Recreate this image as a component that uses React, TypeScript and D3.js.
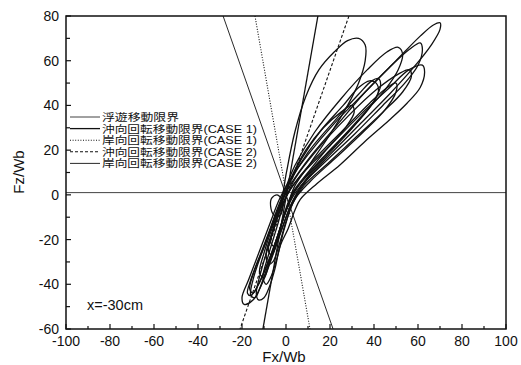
import React from "react";
import * as d3 from "d3";

const W = 521;
const H = 365;

const xTicksMajor = [-100, -80, -60, -40, -20, 0, 20, 40, 60, 80, 100];
const xTicksMinor = [-90, -70, -50, -30, -10, 10, 30, 50, 70, 90];
const yTicksMajor = [-60, -40, -20, 0, 20, 40, 60, 80];
const yTicksMinor = [-50, -30, -10, 10, 30, 50, 70];

const legendLabels = [
  "浮遊移動限界",
  "沖向回転移動限界(CASE 1)",
  "岸向回転移動限界(CASE 1)",
  "沖向回転移動限界(CASE 2)",
  "岸向回転移動限界(CASE 2)",
];
const legendDash = ["", "", "1,1.6", "3,2", ""];
const legendWidth = [0.8, 1.3, 1.1, 1.1, 0.9];

// limit lines [Fx, Fz]
const floatLimit: [number, number][] = [[-100, 1], [100, 1]];
const offshoreCase1: [number, number][] = [[14.5, 80], [-10.5, -60]];
const shoreCase1: [number, number][] = [[-14.1, 80], [10.9, -60]];
const offshoreCase2: [number, number][] = [[28.6, 80], [-20.9, -60]];
const shoreCase2: [number, number][] = [[-28.6, 80], [21.4, -60]];

// trajectory loops [Fx, Fz]
const loopA: [number, number][] = [[33,70],[36,67],[36,60],[33,50],[28,40],[20,27],[11,14],[4,4],[1,-4],[-3,-16],[-8,-30],[-13,-41],[-16,-45],[-17.5,-44],[-16,-38],[-11,-25],[-6,-12],[-2,-2],[0,9],[4,28],[9,44],[15,56],[22,64],[28,69]];
const loopB: [number, number][] = [[70,77],[70,74],[66,67],[58,57],[47,45],[34,32],[20,18],[9,6],[3,-3],[-1,-13],[-6,-27],[-11,-40],[-15,-47],[-19,-49],[-20,-46],[-17,-38],[-12,-25],[-7,-12],[-3,-2],[2,7],[10,18],[22,32],[36,46],[50,60],[61,71],[67,76]];
const loopC: [number, number][] = [[61,68],[62,65],[60,58],[54,50],[44,40],[31,27],[17,14],[7,4],[2,-5],[-3,-18],[-8,-31],[-12,-42],[-14,-46],[-16,-45],[-15,-38],[-11,-26],[-6,-13],[-2,-3],[3,6],[11,17],[23,31],[36,46],[47,57],[56,65]];
const loopD: [number, number][] = [[62,58],[63,55],[61,48],[55,41],[47,33.5],[36,24],[24.5,13.4],[14,5],[6.5,-2],[4,-7],[1,-15],[-2.7,-23],[-5,-33],[-7.5,-41],[-10,-46],[-12.5,-47],[-13.5,-44],[-11,-33],[-7,-20],[-3,-8],[1,1],[8,10],[20,22],[34,36],[46,47],[56,56]];
const loopE: [number, number][] = [[51,66],[53,63],[51,56],[45,47],[36,37],[24,24],[12,11],[4,2],[0,-7],[-4,-19],[-9,-32],[-13,-41],[-15,-44],[-16.5,-42],[-14,-33],[-9,-21],[-5,-9],[-1,1],[4,13],[13,28],[25,43],[37,56],[46,64]];
const loopF: [number, number][] = [[42,52],[43,49],[40,42],[32,32],[21,20],[10,8],[3,-1],[-1,-10],[-5,-22],[-8,-32],[-10,-37],[-12,-35],[-10,-26],[-6,-14],[-2,-4],[2,6],[10,19],[22,33],[33,45],[39,51]];
const loopG: [number, number][] = [[50,50],[50,46],[45,38],[35,28],[22,16],[11,6],[4,-2],[0,-12],[-3,-22],[-6,-30],[-8,-31],[-9,-26],[-6,-16],[-2,-5],[3,4],[12,15],[26,29],[38,41],[46,48]];
const loopH: [number, number][] = [[38,51],[41,50],[42,46],[38,39],[30,30],[18,18],[8,7],[2,-2],[-2,-13],[-5,-24],[-6.5,-27],[-8,-25],[-6,-16],[-3,-6],[1,4],[7,16],[16,29],[26,40],[33,48]];
const loopI: [number, number][] = [[30,40],[31,37],[27,30],[19,21],[10,10],[3,1],[-1,-9],[-4,-20],[-5.5,-23],[-7,-21],[-5,-13],[-2,-3],[2,7],[9,20],[17,30],[25,37]];
const loopJ: [number, number][] = [[56,56],[57,53],[53,46],[44,37],[32,26],[19,14],[8,4],[3,-4],[-1,-16],[-4,-28],[-7,-37],[-9,-40],[-10.5,-37],[-8,-27],[-4,-14],[-1,-4],[4,7],[14,20],[28,35],[41,47],[51,54]];
const loopOval: [number, number][] = [[-4,0],[-2,-2],[-1.5,-6],[-3,-9.5],[-5.5,-9],[-7,-5],[-6.5,-1.5]];

const loops = [loopA, loopB, loopC, loopD, loopE, loopF, loopG, loopH, loopI, loopJ, loopOval];

const annotation = "x=-30cm";

export default function App() {
  const x = d3.scaleLinear().domain([-100, 100]).range([66, 506]);
  const y = d3.scaleLinear().domain([-60, 80]).range([329, 16]);
  const line = d3.line<[number, number]>().x((d) => x(d[0])).y((d) => y(d[1]));
  const loopPath = d3
    .line<[number, number]>()
    .x((d) => x(d[0]))
    .y((d) => y(d[1]))
    .curve(d3.curveCatmullRomClosed.alpha(0.5));

  const limitLines: { pts: [number, number][]; dash: string; w: number }[] = [
    { pts: floatLimit, dash: legendDash[0], w: legendWidth[0] },
    { pts: offshoreCase1, dash: legendDash[1], w: legendWidth[1] },
    { pts: shoreCase1, dash: legendDash[2], w: legendWidth[2] },
    { pts: offshoreCase2, dash: legendDash[3], w: legendWidth[3] },
    { pts: shoreCase2, dash: legendDash[4], w: legendWidth[4] },
  ];

  const font = "'Liberation Sans', Arial, 'Noto Sans CJK JP', sans-serif";
  const [x0, x1] = x.range();
  const [yb, yt] = y.range();

  return (
    <div style={{ position: "absolute", left: 0, top: 0 }}>
      <svg width={W} height={H} style={{ display: "block", background: "#fff" }}>
        <defs>
          <clipPath id="plot">
            <rect x={x0} y={yt} width={x1 - x0} height={yb - yt} />
          </clipPath>
        </defs>
        <g clipPath="url(#plot)">
          {limitLines.map((l, i) => (
            <path
              key={"l" + i}
              d={line(l.pts) || ""}
              fill="none"
              stroke="#111"
              strokeWidth={l.w}
              strokeDasharray={l.dash || undefined}
            />
          ))}
          {loops.map((lp, i) => (
            <path key={"p" + i} d={loopPath(lp) || ""} fill="none" stroke="#111" strokeWidth={1.3} />
          ))}
        </g>
        {/* frame */}
        <rect x={x0} y={yt} width={x1 - x0} height={yb - yt} fill="none" stroke="#111" strokeWidth={1.5} />
        {/* x ticks */}
        {xTicksMajor.map((t) => (
          <g key={"xt" + t}>
            <line x1={x(t)} x2={x(t)} y1={yb} y2={yb - 5} stroke="#111" strokeWidth={1.2} />
            <text x={x(t)} y={346} textAnchor="middle" fontFamily={font} fontSize={14} fill="#111">
              {t}
            </text>
          </g>
        ))}
        {xTicksMinor.map((t) => (
          <line key={"xm" + t} x1={x(t)} x2={x(t)} y1={yb} y2={yb - 3} stroke="#111" strokeWidth={1.2} />
        ))}
        {yTicksMajor.map((t) => (
          <g key={"yt" + t}>
            <line x1={x0} x2={x0 + 5} y1={y(t)} y2={y(t)} stroke="#111" strokeWidth={1.2} />
            <text x={59} y={y(t) + 5} textAnchor="end" fontFamily={font} fontSize={14} fill="#111">
              {t}
            </text>
          </g>
        ))}
        {yTicksMinor.map((t) => (
          <line key={"ym" + t} x1={x0} x2={x0 + 4} y1={y(t)} y2={y(t)} stroke="#111" strokeWidth={1.2} />
        ))}
        {/* axis titles */}
        <text x={284} y={362} textAnchor="middle" fontFamily={font} fontSize={15} fill="#111">
          Fx/Wb
        </text>
        <text
          transform={`translate(24,172) rotate(-90)`}
          textAnchor="middle"
          fontFamily={font}
          fontSize={15}
          fill="#111"
        >
          Fz/Wb
        </text>
        {/* legend */}
        {legendLabels.map((lab, i) => {
          const ly = 117 + i * 11.6;
          return (
            <g key={"lg" + i}>
              <line
                x1={70}
                x2={100}
                y1={ly}
                y2={ly}
                stroke="#111"
                strokeWidth={legendWidth[i]}
                strokeDasharray={legendDash[i] || undefined}
              />
              <text
                x={102}
                y={ly + 4}
                fontFamily={font}
                fontSize={10.5}
                fill="#111"
                textLength={i === 0 ? 77 : 155}
                lengthAdjust="spacingAndGlyphs"
              >
                {lab}
              </text>
            </g>
          );
        })}
        <text x={87} y={310} fontFamily={font} fontSize={14.5} fill="#111">
          {annotation}
        </text>
      </svg>
    </div>
  );
}
